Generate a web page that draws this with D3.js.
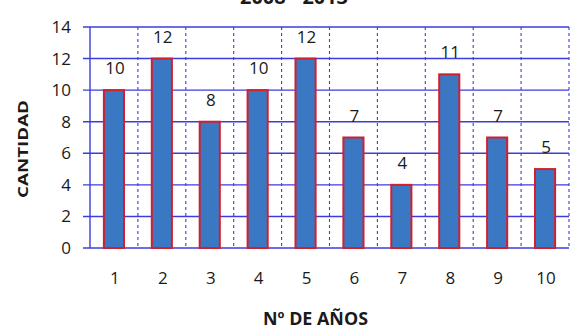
<!DOCTYPE html>
<html>
<head>
<meta charset="utf-8">
<script src="https://cdn.jsdelivr.net/npm/d3@7"></script>
<style>
  html, body { margin: 0; padding: 0; background: #ffffff; }
  text { font-family: "Open Sans", "Liberation Sans", sans-serif; fill: #1a1a1a; }
</style>
</head>
<body>
<svg id="chart" width="570" height="331"></svg>
<script>
const categories = ["1", "2", "3", "4", "5", "6", "7", "8", "9", "10"];
const values = [10, 12, 8, 10, 12, 7, 4, 11, 7, 5];
const yTicks = [0, 2, 4, 6, 8, 10, 12, 14];
const titleText = "2008 - 2013";
const xTitle = "Nº DE AÑOS";
const yTitle = "CANTIDAD";

const svg = d3.select("#chart");
const plotLeft = 90, plotRight = 569, plotTop = 27, plotBottom = 248;

const x = d3.scaleBand().domain(categories).range([plotLeft, plotRight])
  .paddingInner(0.58).paddingOuter(0.29);
const y = d3.scaleLinear().domain([0, 14]).range([plotBottom, plotTop]);
const step = x.step();

// horizontal gridlines (with tick stubs left of axis)
svg.append("g").selectAll("line").data(yTicks).join("line")
  .attr("x1", plotLeft - 7).attr("x2", plotRight)
  .attr("y1", d => y(d)).attr("y2", d => y(d))
  .attr("stroke", "#3c3cdc").attr("stroke-width", 1.4);

// vertical dashed category separators
const seps = d3.range(1, categories.length + 1);
svg.append("g").selectAll("line").data(seps).join("line")
  .attr("x1", i => plotLeft + i * step).attr("x2", i => plotLeft + i * step)
  .attr("y1", plotTop).attr("y2", plotBottom)
  .attr("stroke", "#3c3cdc").attr("stroke-width", 1.1)
  .attr("stroke-dasharray", "3,3");

// y axis line
svg.append("line").attr("x1", plotLeft).attr("x2", plotLeft)
  .attr("y1", plotTop).attr("y2", plotBottom)
  .attr("stroke", "#3c3cdc").attr("stroke-width", 1.4);

// bars
svg.append("g").selectAll("rect").data(values).join("rect")
  .attr("x", (d, i) => x(categories[i]))
  .attr("y", d => y(d))
  .attr("width", x.bandwidth())
  .attr("height", d => y(0) - y(d))
  .attr("fill", "#3a78c4")
  .attr("stroke", "#d0202e").attr("stroke-width", 2);

// data labels
svg.append("g").selectAll("text").data(values).join("text")
  .attr("x", (d, i) => x(categories[i]) + x.bandwidth() / 2 + 1)
  .attr("y", d => y(d) - 16)
  .attr("text-anchor", "middle")
  .attr("font-size", 17)
  .text(d => d);

// y tick labels
svg.append("g").selectAll("text").data(yTicks).join("text")
  .attr("x", 71).attr("y", d => y(d) + 6)
  .attr("text-anchor", "end")
  .attr("font-size", 17)
  .text(d => d);

// x tick labels
svg.append("g").selectAll("text").data(categories).join("text")
  .attr("x", d => x(d) + x.bandwidth() / 2 + 1)
  .attr("y", 284)
  .attr("text-anchor", "middle")
  .attr("font-size", 17)
  .text(d => d);

// title (cut off at top, as in the reference)
svg.append("text").attr("x", 240).attr("y", 4)
  .attr("font-size", 19).attr("font-weight", "bold")
  .attr("textLength", 108).attr("lengthAdjust", "spacingAndGlyphs")
  .text(titleText);

// x title
svg.append("text").attr("x", 263).attr("y", 325)
  .attr("font-size", 17).attr("font-weight", "bold")
  .attr("textLength", 105).attr("lengthAdjust", "spacingAndGlyphs")
  .text(xTitle);

// y title
svg.append("text")
  .attr("transform", "translate(28,198) rotate(-90)")
  .attr("font-size", 14).attr("font-weight", "bold")
  .attr("textLength", 98).attr("lengthAdjust", "spacingAndGlyphs")
  .text(yTitle);
</script>
</body>
</html>
